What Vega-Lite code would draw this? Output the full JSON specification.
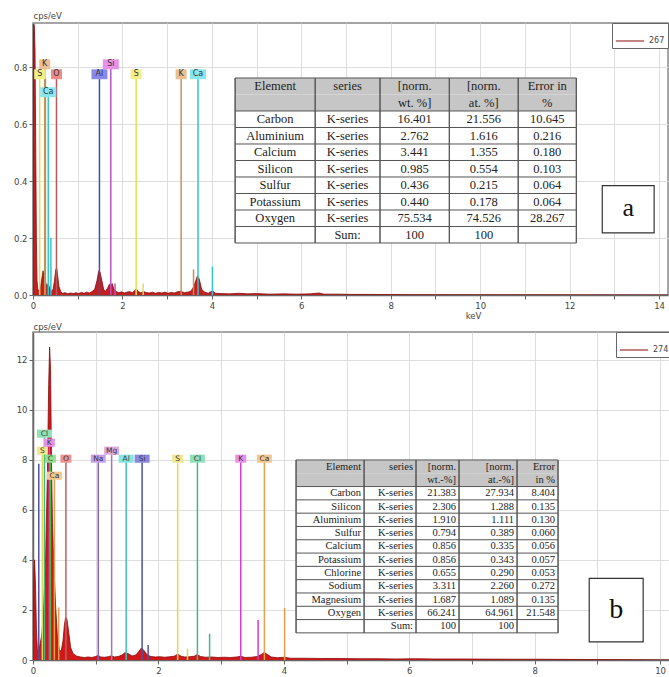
{
  "$schema": "https://vega.github.io/schema/vega-lite/v6.json",
  "padding": {"top": 10, "left": 12, "right": 0, "bottom": 0},
  "columns": 1,
  "align": "none",
  "spacing": 0,
  "bounds": "full",
  "config": {
    "font": "DejaVu Sans",
    "view": {"stroke": "#888", "strokeWidth": 1.5},
    "axis": {"domainColor": "#666", "domainWidth": 1.5, "tickColor": "#666", "gridColor": "#dedede", "labelColor": "#444", "labelFontSize": 8.5, "labelFont": "DejaVu Sans", "tickSize": 4, "labelPadding": 2, "titleFontWeight": "normal", "titleFont": "DejaVu Sans", "titleFontSize": 8.5, "titleColor": "#444", "labelOverlap": false, "labelFlush": false}
  },
  "resolve": {"scale": {"color": "independent", "fill": "independent", "stroke": "independent"}, "legend": {"stroke": "independent"}},
  "datasets": {
    "specA": [
      {"keV":0,"cps":0},{"keV":0.01,"cps":0.9},{"keV":0.02,"cps":0.95},{"keV":0.03,"cps":0.94},{"keV":0.045,"cps":0.86},{"keV":0.06,"cps":0.55},{"keV":0.075,"cps":0.2},{"keV":0.09,"cps":0.05},{"keV":0.11,"cps":0.015},{"keV":0.14,"cps":0.02},{"keV":0.17,"cps":0.03},{"keV":0.2,"cps":0.06},{"keV":0.225,"cps":0.085},{"keV":0.25,"cps":0.06},{"keV":0.28,"cps":0.045},{"keV":0.31,"cps":0.03},{"keV":0.34,"cps":0.04},{"keV":0.37,"cps":0.025},{"keV":0.41,"cps":0.012},{"keV":0.45,"cps":0.02},{"keV":0.48,"cps":0.05},{"keV":0.51,"cps":0.09},{"keV":0.53,"cps":0.095},{"keV":0.55,"cps":0.07},{"keV":0.58,"cps":0.03},{"keV":0.62,"cps":0.012},{"keV":0.66,"cps":0.006},{"keV":0.72,"cps":0.008},{"keV":0.78,"cps":0.004},{"keV":0.84,"cps":0.007},{"keV":0.9,"cps":0.005},{"keV":0.96,"cps":0.008},{"keV":1.02,"cps":0.005},{"keV":1.08,"cps":0.009},{"keV":1.14,"cps":0.006},{"keV":1.2,"cps":0.01},{"keV":1.26,"cps":0.007},{"keV":1.32,"cps":0.012},{"keV":1.38,"cps":0.02},{"keV":1.43,"cps":0.05},{"keV":1.47,"cps":0.085},{"keV":1.5,"cps":0.08},{"keV":1.54,"cps":0.05},{"keV":1.58,"cps":0.02},{"keV":1.62,"cps":0.012},{"keV":1.67,"cps":0.025},{"keV":1.71,"cps":0.038},{"keV":1.74,"cps":0.035},{"keV":1.77,"cps":0.04},{"keV":1.81,"cps":0.02},{"keV":1.86,"cps":0.012},{"keV":1.92,"cps":0.008},{"keV":1.98,"cps":0.011},{"keV":2.04,"cps":0.007},{"keV":2.1,"cps":0.01},{"keV":2.16,"cps":0.012},{"keV":2.22,"cps":0.008},{"keV":2.28,"cps":0.016},{"keV":2.31,"cps":0.022},{"keV":2.35,"cps":0.012},{"keV":2.41,"cps":0.008},{"keV":2.47,"cps":0.012},{"keV":2.53,"cps":0.009},{"keV":2.6,"cps":0.007},{"keV":2.67,"cps":0.01},{"keV":2.74,"cps":0.006},{"keV":2.81,"cps":0.009},{"keV":2.88,"cps":0.007},{"keV":2.95,"cps":0.01},{"keV":3.02,"cps":0.006},{"keV":3.09,"cps":0.009},{"keV":3.16,"cps":0.007},{"keV":3.23,"cps":0.011},{"keV":3.31,"cps":0.013},{"keV":3.38,"cps":0.008},{"keV":3.45,"cps":0.01},{"keV":3.52,"cps":0.012},{"keV":3.58,"cps":0.025},{"keV":3.63,"cps":0.045},{"keV":3.68,"cps":0.068},{"keV":3.72,"cps":0.055},{"keV":3.77,"cps":0.02},{"keV":3.84,"cps":0.01},{"keV":3.92,"cps":0.006},{"keV":3.98,"cps":0.012},{"keV":4.02,"cps":0.014},{"keV":4.08,"cps":0.006},{"keV":4.2,"cps":0.005},{"keV":4.4,"cps":0.004},{"keV":4.6,"cps":0.006},{"keV":4.8,"cps":0.004},{"keV":5.0,"cps":0.005},{"keV":5.3,"cps":0.003},{"keV":5.6,"cps":0.004},{"keV":5.9,"cps":0.003},{"keV":6.2,"cps":0.004},{"keV":6.4,"cps":0.007},{"keV":6.5,"cps":0.003},{"keV":6.8,"cps":0.003},{"keV":7.1,"cps":0.002},{"keV":7.5,"cps":0.002},{"keV":8.0,"cps":0.0015},{"keV":8.5,"cps":0.001},{"keV":9.0,"cps":0.001},{"keV":9.7,"cps":0.0008},{"keV":10.5,"cps":0.0005},{"keV":14.2,"cps":0}
    ],
    "specB": [
      {"keV":0,"cps":0},{"keV":0.015,"cps":3.6},{"keV":0.025,"cps":4.0},{"keV":0.04,"cps":3.0},{"keV":0.055,"cps":1.2},{"keV":0.07,"cps":0.4},{"keV":0.09,"cps":0.3},{"keV":0.11,"cps":0.6},{"keV":0.14,"cps":1.0},{"keV":0.17,"cps":2.0},{"keV":0.2,"cps":4.0},{"keV":0.23,"cps":7.5},{"keV":0.25,"cps":11.0},{"keV":0.265,"cps":12.5},{"keV":0.28,"cps":11.6},{"keV":0.295,"cps":8.0},{"keV":0.31,"cps":5.5},{"keV":0.33,"cps":4.0},{"keV":0.36,"cps":2.2},{"keV":0.39,"cps":0.9},{"keV":0.42,"cps":0.4},{"keV":0.45,"cps":0.35},{"keV":0.48,"cps":0.8},{"keV":0.5,"cps":1.4},{"keV":0.52,"cps":1.7},{"keV":0.54,"cps":1.65},{"keV":0.57,"cps":1.1},{"keV":0.6,"cps":0.5},{"keV":0.64,"cps":0.25},{"keV":0.7,"cps":0.15},{"keV":0.76,"cps":0.12},{"keV":0.82,"cps":0.1},{"keV":0.88,"cps":0.12},{"keV":0.94,"cps":0.1},{"keV":1.0,"cps":0.14},{"keV":1.04,"cps":0.18},{"keV":1.08,"cps":0.12},{"keV":1.14,"cps":0.11},{"keV":1.2,"cps":0.13},{"keV":1.25,"cps":0.17},{"keV":1.3,"cps":0.12},{"keV":1.36,"cps":0.14},{"keV":1.42,"cps":0.2},{"keV":1.47,"cps":0.3},{"keV":1.52,"cps":0.25},{"keV":1.58,"cps":0.16},{"keV":1.64,"cps":0.2},{"keV":1.69,"cps":0.35},{"keV":1.73,"cps":0.48},{"keV":1.77,"cps":0.38},{"keV":1.82,"cps":0.2},{"keV":1.88,"cps":0.14},{"keV":1.95,"cps":0.12},{"keV":2.02,"cps":0.13},{"keV":2.1,"cps":0.11},{"keV":2.18,"cps":0.13},{"keV":2.25,"cps":0.15},{"keV":2.31,"cps":0.24},{"keV":2.36,"cps":0.15},{"keV":2.42,"cps":0.12},{"keV":2.5,"cps":0.13},{"keV":2.57,"cps":0.15},{"keV":2.62,"cps":0.22},{"keV":2.67,"cps":0.14},{"keV":2.75,"cps":0.11},{"keV":2.85,"cps":0.12},{"keV":2.95,"cps":0.1},{"keV":3.05,"cps":0.11},{"keV":3.15,"cps":0.1},{"keV":3.25,"cps":0.12},{"keV":3.31,"cps":0.15},{"keV":3.38,"cps":0.1},{"keV":3.48,"cps":0.11},{"keV":3.58,"cps":0.14},{"keV":3.64,"cps":0.22},{"keV":3.69,"cps":0.3},{"keV":3.74,"cps":0.22},{"keV":3.8,"cps":0.12},{"keV":3.9,"cps":0.09},{"keV":4.01,"cps":0.11},{"keV":4.1,"cps":0.07},{"keV":4.3,"cps":0.07},{"keV":4.6,"cps":0.06},{"keV":4.9,"cps":0.06},{"keV":5.2,"cps":0.05},{"keV":5.5,"cps":0.05},{"keV":5.8,"cps":0.04},{"keV":6.1,"cps":0.05},{"keV":6.4,"cps":0.04},{"keV":6.8,"cps":0.04},{"keV":7.2,"cps":0.035},{"keV":7.6,"cps":0.03},{"keV":8.0,"cps":0.03},{"keV":8.4,"cps":0.025},{"keV":8.8,"cps":0.02},{"keV":9.2,"cps":0.015},{"keV":9.6,"cps":0.01},{"keV":10.2,"cps":0}
    ],
    "markA": [
      {"el":"S","keV":0.149,"top":0.775,"label":"S"},
      {"el":"C","keV":0.277,"top":0.76},
      {"el":"K","keV":0.262,"top":0.81,"label":"K"},
      {"el":"Ca","keV":0.341,"top":0.712,"label":"Ca"},
      {"el":"O","keV":0.525,"top":0.775,"label":"O"},
      {"el":"Al","keV":1.486,"top":0.775,"label":"Al"},
      {"el":"Si","keV":1.74,"top":0.81,"label":"Si"},
      {"el":"S","keV":2.307,"top":0.775,"label":"S"},
      {"el":"K","keV":3.313,"top":0.775,"label":"K"},
      {"el":"Ca","keV":3.69,"top":0.775,"label":"Ca"},
      {"el":"Ca","keV":0.4,"top":0.2},
      {"el":"Si","keV":1.835,"top":0.04},
      {"el":"S","keV":2.464,"top":0.04},
      {"el":"K","keV":3.59,"top":0.09},
      {"el":"Ca","keV":4.012,"top":0.1}
    ],
    "markB": [
      {"el":"Si","keV":0.092,"top":7.84},
      {"el":"S","keV":0.149,"top":8.36,"label":"S"},
      {"el":"Cl","keV":0.183,"top":9.04,"label":"Cl"},
      {"el":"K","keV":0.26,"top":8.68,"label":"K"},
      {"el":"C","keV":0.277,"top":8.04,"label":"C"},
      {"el":"Ca","keV":0.341,"top":7.36,"label":"Ca"},
      {"el":"O","keV":0.525,"top":8.04,"label":"O"},
      {"el":"Na","keV":1.041,"top":8.04,"label":"Na"},
      {"el":"Mg","keV":1.254,"top":8.36,"label":"Mg"},
      {"el":"Al","keV":1.486,"top":8.04,"label":"Al"},
      {"el":"Si","keV":1.74,"top":8.04,"label":"Si"},
      {"el":"S","keV":2.307,"top":8.04,"label":"S"},
      {"el":"Cl","keV":2.622,"top":8.04,"label":"Cl"},
      {"el":"K","keV":3.313,"top":8.04,"label":"K"},
      {"el":"Ca","keV":3.69,"top":8.04,"label":"Ca"},
      {"el":"Ca","keV":0.41,"top":2.1},
      {"el":"Si","keV":1.836,"top":0.6},
      {"el":"S","keV":2.464,"top":0.45},
      {"el":"Cl","keV":2.816,"top":1.05},
      {"el":"K","keV":3.59,"top":1.6},
      {"el":"Ca","keV":4.013,"top":2.08}
    ],
    "tabA": [
      {"row":"H1","Element":"Element","series":"series","wt":"[norm.","at":"[norm.","err":"Error in"},
      {"row":"H2","Element":"","series":"","wt":"wt. %]","at":"at. %]","err":"%"},
      {"row":"Carbon","Element":"Carbon","series":"K-series","wt":"16.401","at":"21.556","err":"10.645"},
      {"row":"Aluminium","Element":"Aluminium","series":"K-series","wt":"2.762","at":"1.616","err":"0.216"},
      {"row":"Calcium","Element":"Calcium","series":"K-series","wt":"3.441","at":"1.355","err":"0.180"},
      {"row":"Silicon","Element":"Silicon","series":"K-series","wt":"0.985","at":"0.554","err":"0.103"},
      {"row":"Sulfur","Element":"Sulfur","series":"K-series","wt":"0.436","at":"0.215","err":"0.064"},
      {"row":"Potassium","Element":"Potassium","series":"K-series","wt":"0.440","at":"0.178","err":"0.064"},
      {"row":"Oxygen","Element":"Oxygen","series":"K-series","wt":"75.534","at":"74.526","err":"28.267"},
      {"row":"Sum","Element":"","series":"Sum:","wt":"100","at":"100","err":""}
    ],
    "tabB": [
      {"row":"H1","Element":"Element","series":"series","wt":"[norm.","at":"[norm.","err":"Error"},
      {"row":"H2","Element":"","series":"","wt":"wt.-%]","at":"at.-%]","err":"in %"},
      {"row":"Carbon","Element":"Carbon","series":"K-series","wt":"21.383","at":"27.934","err":"8.404"},
      {"row":"Silicon","Element":"Silicon","series":"K-series","wt":"2.306","at":"1.288","err":"0.135"},
      {"row":"Aluminium","Element":"Aluminium","series":"K-series","wt":"1.910","at":"1.111","err":"0.130"},
      {"row":"Sulfur","Element":"Sulfur","series":"K-series","wt":"0.794","at":"0.389","err":"0.060"},
      {"row":"Calcium","Element":"Calcium","series":"K-series","wt":"0.856","at":"0.335","err":"0.056"},
      {"row":"Potassium","Element":"Potassium","series":"K-series","wt":"0.856","at":"0.343","err":"0.057"},
      {"row":"Chlorine","Element":"Chlorine","series":"K-series","wt":"0.655","at":"0.290","err":"0.053"},
      {"row":"Sodium","Element":"Sodium","series":"K-series","wt":"3.311","at":"2.260","err":"0.272"},
      {"row":"Magnesium","Element":"Magnesium","series":"K-series","wt":"1.687","at":"1.089","err":"0.135"},
      {"row":"Oxygen","Element":"Oxygen","series":"K-series","wt":"66.241","at":"64.961","err":"21.548"},
      {"row":"Sum","Element":"","series":"Sum:","wt":"100","at":"100","err":""}
    ]
  },
  "concat": [
    {
      "width": 635,
      "height": 272,
      "resolve": {"scale": {"y": "independent"}, "axis": {"y": "independent"}},
      "layer": [
        {
          "layer": [
            {
              "data": {"name": "specA"},
              "mark": {"type": "area", "color": "#c41e1e", "clip": true},
              "encoding": {
                "x": {"field": "keV", "type": "quantitative", "scale": {"domain": [0, 14.2], "nice": false, "zero": false},
                  "axis": {"title": "keV", "values": [0,0.5,1,1.5,2,2.5,3,3.5,4,4.5,5,5.5,6,6.5,7,7.5,8,8.5,9,9.5,10,10.5,11,11.5,12,12.5,13,13.5,14], "labelExpr": "datum.value % 2 === 0 ? format(datum.value, 'd') : ''", "grid": true, "titleX": 440, "titleY": 16, "titleBaseline": "top"}},
                "y": {"field": "cps", "type": "quantitative", "scale": {"domain": [0, 0.955], "nice": false, "zero": false},
                  "axis": {"title": "cps/eV", "values": [0,0.05,0.1,0.15,0.2,0.25,0.3,0.35,0.4,0.45,0.5,0.55,0.6,0.65,0.7,0.75,0.8,0.85,0.9,0.95], "labelExpr": "round(datum.value*100) % 20 === 0 ? format(datum.value, '.1f') : ''", "grid": true, "titleAngle": 0, "titleAlign": "left", "titleBaseline": "bottom", "titleX": 0, "titleY": -3}}
              }
            },
            {
              "data": {"name": "specA"},
              "mark": {"type": "line", "strokeWidth": 0.8, "clip": true},
              "encoding": {
                "x": {"field": "keV", "type": "quantitative"},
                "y": {"field": "cps", "type": "quantitative"},
                "stroke": {"datum": "267", "type": "nominal", "scale": {"range": ["#8b0a0a"]},
                  "legend": {"title": null, "orient": "top-right", "offset": 0, "symbolType": "stroke", "symbolSize": 800, "symbolStrokeWidth": 1, "labelFontSize": 8, "labelColor": "#444", "strokeColor": "#666", "fillColor": "white", "padding": 3}}
              }
            },
            {
              "data": {"name": "markA"},
              "mark": {"type": "rule", "strokeWidth": 1.5},
              "encoding": {
                "x": {"field": "keV", "type": "quantitative"},
                "y": {"field": "top", "type": "quantitative"},
                "y2": {"datum": 0},
                "color": {"field": "el", "type": "nominal", "legend": null, "scale": {"domain": ["S","C","K","Ca","O","Al","Si"], "range": ["#e6e04a","#3cc878","#c8915a","#38c4d0","#b85a5a","#4a4aa0","#c050c8"]}}
              }
            },
            {
              "data": {"name": "markA"},
              "transform": [{"filter": "isValid(datum.label) && length(datum.label) === 1"}],
              "mark": {"type": "point", "filled": true, "opacity": 1, "size": 121, "shape": "M-1,-0.9L1,-0.9L1,0.9L-1,0.9Z"},
              "encoding": {
                "x": {"field": "keV", "type": "quantitative"},
                "y": {"field": "top", "type": "quantitative"},
                "fill": {"field": "el", "type": "nominal", "legend": null, "scale": {"domain": ["S","C","K","Ca","O","Al","Si"], "range": ["#f2ee88","#90e0a8","#e8c094","#8ae6ee","#ee8a8a","#8a8ae6","#e890e8"]}}
              }
            },
            {
              "data": {"name": "markA"},
              "transform": [{"filter": "isValid(datum.label) && length(datum.label) === 2"}],
              "mark": {"type": "point", "filled": true, "opacity": 1, "size": 256, "shape": "M-1,-0.62L1,-0.62L1,0.62L-1,0.62Z"},
              "encoding": {
                "x": {"field": "keV", "type": "quantitative"},
                "y": {"field": "top", "type": "quantitative"},
                "fill": {"field": "el", "type": "nominal", "legend": null}
              }
            },
            {
              "data": {"name": "markA"},
              "transform": [{"filter": "isValid(datum.label)"}],
              "mark": {"type": "text", "fontSize": 8, "color": "#333", "baseline": "middle", "align": "center"},
              "encoding": {
                "x": {"field": "keV", "type": "quantitative"},
                "y": {"field": "top", "type": "quantitative"},
                "text": {"field": "label"}
              }
            },
            {
              "data": {"values": [{}]},
              "mark": {"type": "rect", "fill": "white", "stroke": "#333", "strokeWidth": 1.2},
              "encoding": {
                "x": {"datum": 12.73, "type": "quantitative"},
                "x2": {"datum": 13.89},
                "y": {"datum": 0.218, "type": "quantitative"},
                "y2": {"datum": 0.384}
              }
            },
            {
              "data": {"values": [{}]},
              "mark": {"type": "text", "text": "a", "font": "Liberation Serif", "fontSize": 26, "color": "#111", "baseline": "middle", "align": "center"},
              "encoding": {
                "x": {"datum": 13.31, "type": "quantitative"},
                "y": {"datum": 0.305, "type": "quantitative"}
              }
            }
          ]
        },
        {
          "data": {"name": "tabA"},
          "layer": [
            {
              "mark": {"type": "rect"},
              "encoding": {
                "x": {"datum": 4.52, "type": "quantitative"},
                "x2": {"datum": 12.15},
                "y": {"field": "row", "type": "nominal", "axis": null, "sort": null, "scale": {"type": "band", "domain": ["_p1","_p2","_p3","H1","H2","Carbon","Aluminium","Calcium","Silicon","Sulfur","Potassium","Oxygen","Sum","_end","_p4"], "paddingInner": 0, "paddingOuter": 0.7425, "align": 0.224}},
                "color": {"condition": {"test": "datum.row === 'H1' || datum.row === 'H2'", "value": "#c6c6c6"}, "value": "white"}
              }
            },
            {
              "transform": [{"filter": "datum.row !== 'H2'"}],
              "mark": {"type": "rule", "color": "#555", "strokeWidth": 1},
              "encoding": {
                "x": {"datum": 4.52, "type": "quantitative"},
                "x2": {"datum": 12.15},
                "y": {"field": "row", "type": "nominal", "axis": null, "bandPosition": 0}
              }
            },
            {
              "data": {"values": [{}]},
              "mark": {"type": "rule", "color": "#555", "strokeWidth": 1},
              "encoding": {
                "x": {"datum": 4.52, "type": "quantitative"},
                "x2": {"datum": 12.15},
                "y": {"datum": "_end", "type": "nominal", "axis": null, "bandPosition": 0}
              }
            },
            {"mark": {"type": "rect", "fill": "transparent", "stroke": "#555", "strokeWidth": 1}, "encoding": {"x": {"datum": 4.52, "type": "quantitative"}, "x2": {"datum": 4.52}, "y": {"field": "row", "type": "nominal", "axis": null}}},
            {"mark": {"type": "rect", "fill": "transparent", "stroke": "#555", "strokeWidth": 1}, "encoding": {"x": {"datum": 6.31, "type": "quantitative"}, "x2": {"datum": 6.31}, "y": {"field": "row", "type": "nominal", "axis": null}}},
            {"mark": {"type": "rect", "fill": "transparent", "stroke": "#555", "strokeWidth": 1}, "encoding": {"x": {"datum": 7.76, "type": "quantitative"}, "x2": {"datum": 7.76}, "y": {"field": "row", "type": "nominal", "axis": null}}},
            {"mark": {"type": "rect", "fill": "transparent", "stroke": "#555", "strokeWidth": 1}, "encoding": {"x": {"datum": 9.31, "type": "quantitative"}, "x2": {"datum": 9.31}, "y": {"field": "row", "type": "nominal", "axis": null}}},
            {"mark": {"type": "rect", "fill": "transparent", "stroke": "#555", "strokeWidth": 1}, "encoding": {"x": {"datum": 10.85, "type": "quantitative"}, "x2": {"datum": 10.85}, "y": {"field": "row", "type": "nominal", "axis": null}}},
            {"mark": {"type": "rect", "fill": "transparent", "stroke": "#555", "strokeWidth": 1}, "encoding": {"x": {"datum": 12.15, "type": "quantitative"}, "x2": {"datum": 12.15}, "y": {"field": "row", "type": "nominal", "axis": null}}},
            {"mark": {"type": "text", "font": "Liberation Serif", "fontSize": 12.5, "color": "#222", "align": "center", "baseline": "middle"}, "encoding": {"x": {"datum": 5.415, "type": "quantitative"}, "y": {"field": "row", "type": "nominal", "axis": null}, "text": {"field": "Element"}}},
            {"mark": {"type": "text", "font": "Liberation Serif", "fontSize": 12.5, "color": "#222", "align": "center", "baseline": "middle"}, "encoding": {"x": {"datum": 7.035, "type": "quantitative"}, "y": {"field": "row", "type": "nominal", "axis": null}, "text": {"field": "series"}}},
            {"mark": {"type": "text", "font": "Liberation Serif", "fontSize": 12.5, "color": "#222", "align": "center", "baseline": "middle"}, "encoding": {"x": {"datum": 8.535, "type": "quantitative"}, "y": {"field": "row", "type": "nominal", "axis": null}, "text": {"field": "wt"}}},
            {"mark": {"type": "text", "font": "Liberation Serif", "fontSize": 12.5, "color": "#222", "align": "center", "baseline": "middle"}, "encoding": {"x": {"datum": 10.08, "type": "quantitative"}, "y": {"field": "row", "type": "nominal", "axis": null}, "text": {"field": "at"}}},
            {"mark": {"type": "text", "font": "Liberation Serif", "fontSize": 12.5, "color": "#222", "align": "center", "baseline": "middle"}, "encoding": {"x": {"datum": 11.5, "type": "quantitative"}, "y": {"field": "row", "type": "nominal", "axis": null}, "text": {"field": "err"}}}
          ]
        }
      ]
    },
    {
      "width": 639,
      "height": 328,
      "resolve": {"scale": {"y": "independent"}, "axis": {"y": "independent"}},
      "layer": [
        {
          "layer": [
            {
              "data": {"name": "specB"},
              "mark": {"type": "area", "color": "#d01818", "clip": true},
              "encoding": {
                "x": {"field": "keV", "type": "quantitative", "scale": {"domain": [0, 10.19], "nice": false, "zero": false},
                  "axis": {"title": null, "values": [0,0.5,1,1.5,2,2.5,3,3.5,4,4.5,5,5.5,6,6.5,7,7.5,8,8.5,9,9.5,10], "labelExpr": "datum.value % 2 === 0 ? format(datum.value, 'd') : ''", "grid": true}},
                "y": {"field": "cps", "type": "quantitative", "scale": {"domain": [0, 13.1], "nice": false, "zero": false},
                  "axis": {"title": "cps/eV", "values": [0,0.5,1,1.5,2,2.5,3,3.5,4,4.5,5,5.5,6,6.5,7,7.5,8,8.5,9,9.5,10,10.5,11,11.5,12,12.5,13], "labelExpr": "datum.value % 2 === 0 ? format(datum.value, 'd') : ''", "grid": true, "titleAngle": 0, "titleAlign": "left", "titleBaseline": "bottom", "titleX": 0, "titleY": -1}}
              }
            },
            {
              "data": {"name": "specB"},
              "mark": {"type": "line", "strokeWidth": 0.8, "clip": true},
              "encoding": {
                "x": {"field": "keV", "type": "quantitative"},
                "y": {"field": "cps", "type": "quantitative"},
                "stroke": {"datum": "274", "type": "nominal", "scale": {"range": ["#8b0a0a"]},
                  "legend": {"title": null, "orient": "top-right", "offset": 0, "symbolType": "stroke", "symbolSize": 800, "symbolStrokeWidth": 1, "labelFontSize": 8, "labelColor": "#444", "strokeColor": "#666", "fillColor": "white", "padding": 3}}
              }
            },
            {
              "data": {"name": "markB"},
              "mark": {"type": "rule", "strokeWidth": 1.5},
              "encoding": {
                "x": {"field": "keV", "type": "quantitative"},
                "y": {"field": "top", "type": "quantitative"},
                "y2": {"datum": 0},
                "color": {"field": "el", "type": "nominal", "legend": null, "scale": {"domain": ["S","Cl","K","C","Ca","O","Na","Mg","Al","Si"], "range": ["#e0d850","#40b888","#d040d0","#40c040","#e0a050","#c06060","#9060b8","#b070b0","#40c0c0","#5050a8"]}}
              }
            },
            {
              "data": {"name": "markB"},
              "transform": [{"filter": "isValid(datum.label) && length(datum.label) === 1"}],
              "mark": {"type": "point", "filled": true, "opacity": 1, "size": 121, "shape": "M-1,-0.73L1,-0.73L1,0.73L-1,0.73Z"},
              "encoding": {
                "x": {"field": "keV", "type": "quantitative"},
                "y": {"field": "top", "type": "quantitative"},
                "fill": {"field": "el", "type": "nominal", "legend": null, "scale": {"domain": ["S","Cl","K","C","Ca","O","Na","Mg","Al","Si"], "range": ["#f0e890","#90e0b8","#e890e8","#90e090","#f2c890","#f09090","#c8a0e8","#e0a8e0","#88e4e4","#8888e0"]}}
              }
            },
            {
              "data": {"name": "markB"},
              "transform": [{"filter": "isValid(datum.label) && length(datum.label) === 2"}],
              "mark": {"type": "point", "filled": true, "opacity": 1, "size": 225, "shape": "M-1,-0.54L1,-0.54L1,0.54L-1,0.54Z"},
              "encoding": {
                "x": {"field": "keV", "type": "quantitative"},
                "y": {"field": "top", "type": "quantitative"},
                "fill": {"field": "el", "type": "nominal", "legend": null}
              }
            },
            {
              "data": {"name": "markB"},
              "transform": [{"filter": "isValid(datum.label)"}],
              "mark": {"type": "text", "fontSize": 7.5, "color": "#333", "baseline": "middle", "align": "center"},
              "encoding": {
                "x": {"field": "keV", "type": "quantitative"},
                "y": {"field": "top", "type": "quantitative"},
                "text": {"field": "label"}
              }
            },
            {
              "data": {"values": [{}]},
              "mark": {"type": "rect", "fill": "white", "stroke": "#333", "strokeWidth": 1.2},
              "encoding": {
                "x": {"datum": 8.87, "type": "quantitative"},
                "x2": {"datum": 9.73},
                "y": {"datum": 0.72, "type": "quantitative"},
                "y2": {"datum": 3.26}
              }
            },
            {
              "data": {"values": [{}]},
              "mark": {"type": "text", "text": "b", "font": "Liberation Serif", "fontSize": 28, "color": "#111", "baseline": "middle", "align": "center"},
              "encoding": {
                "x": {"datum": 9.3, "type": "quantitative"},
                "y": {"datum": 2.0, "type": "quantitative"}
              }
            }
          ]
        },
        {
          "data": {"name": "tabB"},
          "layer": [
            {
              "mark": {"type": "rect"},
              "encoding": {
                "x": {"datum": 4.195, "type": "quantitative"},
                "x2": {"datum": 8.373},
                "y": {"field": "row", "type": "nominal", "axis": null, "sort": null, "scale": {"type": "band", "domain": ["_p1","_p2","_p3","_p4","_p5","_p6","_p7","_p8","_p9","H1","H2","Carbon","Silicon","Aluminium","Sulfur","Calcium","Potassium","Chlorine","Sodium","Magnesium","Oxygen","Sum","_end","_p10"], "paddingInner": 0, "paddingOuter": 0.33, "align": 0.94}},
                "color": {"condition": {"test": "datum.row === 'H1' || datum.row === 'H2'", "value": "#c6c6c6"}, "value": "white"}
              }
            },
            {
              "transform": [{"filter": "datum.row !== 'H2'"}],
              "mark": {"type": "rule", "color": "#555", "strokeWidth": 1},
              "encoding": {
                "x": {"datum": 4.195, "type": "quantitative"},
                "x2": {"datum": 8.373},
                "y": {"field": "row", "type": "nominal", "axis": null, "bandPosition": 0}
              }
            },
            {
              "data": {"values": [{}]},
              "mark": {"type": "rule", "color": "#555", "strokeWidth": 1},
              "encoding": {
                "x": {"datum": 4.195, "type": "quantitative"},
                "x2": {"datum": 8.373},
                "y": {"datum": "_end", "type": "nominal", "axis": null, "bandPosition": 0}
              }
            },
            {"mark": {"type": "rect", "fill": "transparent", "stroke": "#555", "strokeWidth": 1}, "encoding": {"x": {"datum": 4.195, "type": "quantitative"}, "x2": {"datum": 4.195}, "y": {"field": "row", "type": "nominal", "axis": null}}},
            {"mark": {"type": "rect", "fill": "transparent", "stroke": "#555", "strokeWidth": 1}, "encoding": {"x": {"datum": 5.28, "type": "quantitative"}, "x2": {"datum": 5.28}, "y": {"field": "row", "type": "nominal", "axis": null}}},
            {"mark": {"type": "rect", "fill": "transparent", "stroke": "#555", "strokeWidth": 1}, "encoding": {"x": {"datum": 6.108, "type": "quantitative"}, "x2": {"datum": 6.108}, "y": {"field": "row", "type": "nominal", "axis": null}}},
            {"mark": {"type": "rect", "fill": "transparent", "stroke": "#555", "strokeWidth": 1}, "encoding": {"x": {"datum": 6.794, "type": "quantitative"}, "x2": {"datum": 6.794}, "y": {"field": "row", "type": "nominal", "axis": null}}},
            {"mark": {"type": "rect", "fill": "transparent", "stroke": "#555", "strokeWidth": 1}, "encoding": {"x": {"datum": 7.719, "type": "quantitative"}, "x2": {"datum": 7.719}, "y": {"field": "row", "type": "nominal", "axis": null}}},
            {"mark": {"type": "rect", "fill": "transparent", "stroke": "#555", "strokeWidth": 1}, "encoding": {"x": {"datum": 8.373, "type": "quantitative"}, "x2": {"datum": 8.373}, "y": {"field": "row", "type": "nominal", "axis": null}}},
            {"mark": {"type": "text", "font": "Liberation Serif", "fontSize": 10.5, "color": "#222", "align": "right", "baseline": "middle", "dx": -3}, "encoding": {"x": {"datum": 5.28, "type": "quantitative"}, "y": {"field": "row", "type": "nominal", "axis": null}, "text": {"field": "Element"}}},
            {"mark": {"type": "text", "font": "Liberation Serif", "fontSize": 10.5, "color": "#222", "align": "right", "baseline": "middle", "dx": -3}, "encoding": {"x": {"datum": 6.108, "type": "quantitative"}, "y": {"field": "row", "type": "nominal", "axis": null}, "text": {"field": "series"}}},
            {"mark": {"type": "text", "font": "Liberation Serif", "fontSize": 10.5, "color": "#222", "align": "right", "baseline": "middle", "dx": -3}, "encoding": {"x": {"datum": 6.794, "type": "quantitative"}, "y": {"field": "row", "type": "nominal", "axis": null}, "text": {"field": "wt"}}},
            {"mark": {"type": "text", "font": "Liberation Serif", "fontSize": 10.5, "color": "#222", "align": "right", "baseline": "middle", "dx": -3}, "encoding": {"x": {"datum": 7.719, "type": "quantitative"}, "y": {"field": "row", "type": "nominal", "axis": null}, "text": {"field": "at"}}},
            {"mark": {"type": "text", "font": "Liberation Serif", "fontSize": 10.5, "color": "#222", "align": "right", "baseline": "middle", "dx": -3}, "encoding": {"x": {"datum": 8.373, "type": "quantitative"}, "y": {"field": "row", "type": "nominal", "axis": null}, "text": {"field": "err"}}}
          ]
        }
      ]
    }
  ]
}
